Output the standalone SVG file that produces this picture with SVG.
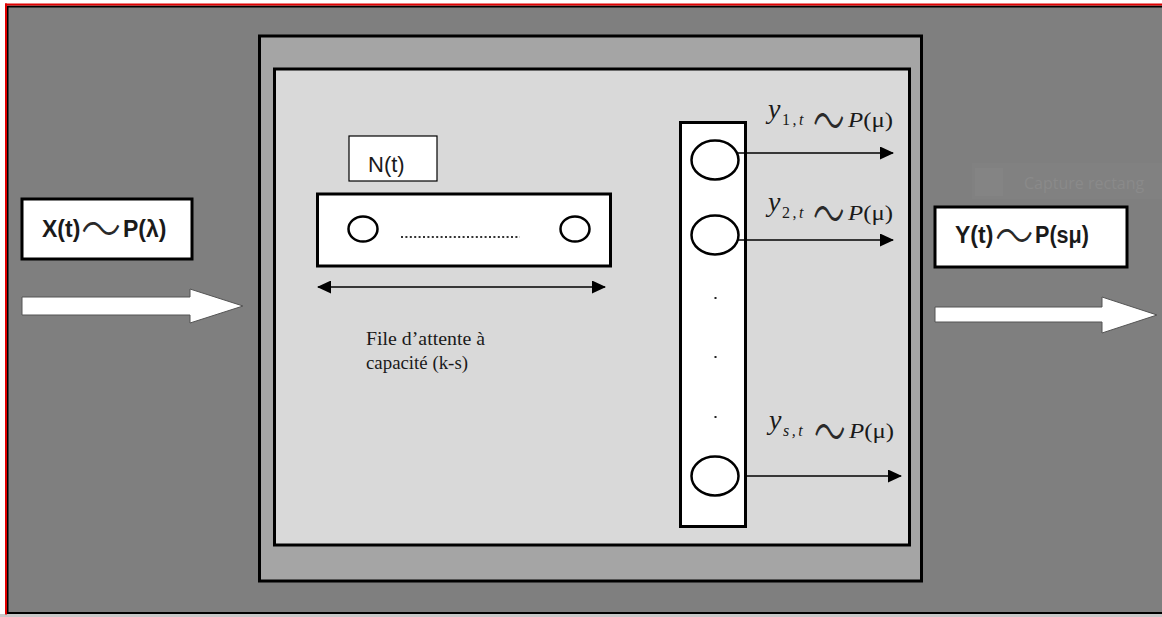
<svg xmlns="http://www.w3.org/2000/svg" width="1162" height="617" viewBox="0 0 1162 617">
<defs>
<marker id="ah" markerWidth="14" markerHeight="13" refX="13" refY="6.5" orient="auto-start-reverse" markerUnits="userSpaceOnUse">
<path d="M0,0 L14,6.5 L0,13 Z" fill="#000"/>
</marker>
<style>
.box{fill:#fff;stroke:#000;stroke-width:3}
.thin{fill:#fff;stroke:#000;stroke-width:1.2}
.circ{fill:#fff;stroke:#000;stroke-width:2.5}
.conn{stroke:#000;stroke-width:1.5;fill:none}
.blk{fill:#fff;stroke:#555;stroke-width:1}
.bold{font-family:"Liberation Sans",Arial,sans-serif;font-weight:bold;font-size:23px;fill:#1a1a1a}
.wave{font-family:"Noto Sans CJK JP","Noto Sans CJK SC",sans-serif;font-weight:300;fill:#2a2a2a}
.mi{font-family:"Liberation Serif","DejaVu Serif",serif;font-style:italic;fill:#1a1a1a}
.mr{font-family:"Liberation Serif","DejaVu Serif",serif;fill:#1a1a1a}
.ser{font-family:"Liberation Serif",serif;font-size:19px;fill:#1a1a1a}
</style>
</defs>
<rect x="0" y="0" width="1162" height="617" fill="#fff"/>
<rect x="0" y="614" width="1162" height="3" fill="#c8c8c8"/>
<g id="frame">
<rect x="7.5" y="6.5" width="1160" height="606.5" fill="#7f7f7f" stroke="#000" stroke-width="2"/>
<rect x="5" y="3.5" width="1157" height="2" fill="#e00000"/>
<rect x="5" y="3.5" width="2" height="611" fill="#e00000"/>
</g>
<g id="middle-box">
<rect x="259.5" y="36" width="662" height="545" fill="#a5a5a5" stroke="#000" stroke-width="3"/>
</g>
<g id="inner-box">
<rect x="274.5" y="69" width="635" height="476" fill="#d9d9d9" stroke="#000" stroke-width="3"/>
</g>
<g id="capture">
<rect x="972" y="163" width="190" height="36" fill="#818181"/>
<rect x="975" y="168" width="28" height="28" fill="#848484"/>
<text x="1024" y="189" font-family="'Open Sans','Liberation Sans',sans-serif" font-size="16" fill="#8a8a8a">Capture rectang</text>
</g>
<g id="x-label">
<rect class="box" x="22" y="199" width="170" height="60"/>
<text class="bold" x="42" y="237">X(t)</text>
<text class="wave" transform="translate(81,247.5) scale(1.25,1.6)" font-size="32">〜</text>
<text class="bold" x="123" y="237">P(λ)</text>
</g>
<g id="x-arrow">
<path class="blk" d="M22,297 H190 V289 L243,306 L190,323 V315 H22 Z"/>
</g>
<g id="nt-label">
<rect class="thin" x="349" y="136" width="88" height="45"/>
<text x="368" y="172" font-family="'Liberation Sans',Arial,sans-serif" font-size="22" fill="#1a1a1a">N(t)</text>
</g>
<g id="queue">
<rect class="box" x="317.5" y="194" width="293" height="72"/>
<ellipse class="circ" cx="363" cy="229" rx="14.5" ry="12.5"/>
<ellipse class="circ" cx="575" cy="229" rx="14.5" ry="12.5"/>
<line x1="401" y1="237" x2="520" y2="237" stroke="#333" stroke-width="2" stroke-dasharray="2,2.4"/>
</g>
<g id="queue-label">
<text class="ser" x="366" y="345" textLength="119" lengthAdjust="spacingAndGlyphs">File d’attente à</text>
<text class="ser" x="366" y="369" textLength="102" lengthAdjust="spacingAndGlyphs">capacité (k-s)</text>
</g>
<g id="servers">
<rect class="box" x="680.5" y="122.5" width="65" height="404"/>
<ellipse class="circ" cx="715" cy="160" rx="23.5" ry="19.5"/>
<ellipse class="circ" cx="715" cy="235" rx="23.5" ry="19.5"/>
<ellipse class="circ" cx="715" cy="476" rx="23.5" ry="19.5"/>
<rect x="714.5" y="297" width="2" height="2" fill="#222"/>
<rect x="714.5" y="356" width="2" height="2" fill="#222"/>
<rect x="714.5" y="416" width="2" height="2" fill="#222"/>
</g>
<g id="y-label">
<rect class="box" x="935" y="207" width="192" height="60"/>
<text class="bold" x="955" y="243">Y(t)</text>
<text class="wave" transform="translate(995,255) scale(1.2,1.6)" font-size="32">〜</text>
<text class="bold" x="1035" y="243" textLength="54" lengthAdjust="spacingAndGlyphs">P(sμ)</text>
</g>
<g id="y-arrow">
<path class="blk" d="M935,307 H1102 V297 L1157,315 L1102,333 V322 H935 Z"/>
</g>
<g id="server-label-1">
<text class="mi" x="768" y="118" font-size="28">y</text>
<text class="mr" x="782" y="125" font-size="16" letter-spacing="2.5">1,<tspan class="mi">t</tspan></text>
<text class="wave" transform="translate(813,142) scale(1.05,1.9)" font-size="30">〜</text>
<text class="mr" x="848" y="127" font-size="20" textLength="45" lengthAdjust="spacingAndGlyphs"><tspan class="mi">P</tspan>(μ)</text>
</g>
<g id="server-label-2" transform="translate(0,93)">
<text class="mi" x="768" y="118" font-size="28">y</text>
<text class="mr" x="782" y="125" font-size="16" letter-spacing="2.5">2,<tspan class="mi">t</tspan></text>
<text class="wave" transform="translate(813,142) scale(1.05,1.9)" font-size="30">〜</text>
<text class="mr" x="848" y="127" font-size="20" textLength="45" lengthAdjust="spacingAndGlyphs"><tspan class="mi">P</tspan>(μ)</text>
</g>
<g id="server-label-s" transform="translate(1,311)">
<text class="mi" x="768" y="118" font-size="28">y</text>
<text class="mi" x="782" y="125" font-size="16" letter-spacing="2.5">s,t</text>
<text class="wave" transform="translate(813,142) scale(1.05,1.9)" font-size="30">〜</text>
<text class="mr" x="848" y="127" font-size="20" textLength="45" lengthAdjust="spacingAndGlyphs"><tspan class="mi">P</tspan>(μ)</text>
</g>
<g id="connectors">
<line class="conn" x1="318" y1="287" x2="605" y2="287" marker-start="url(#ah)" marker-end="url(#ah)"/>
<line class="conn" x1="738" y1="153" x2="893" y2="153" marker-end="url(#ah)"/>
<line class="conn" x1="738" y1="240" x2="893" y2="240" marker-end="url(#ah)"/>
<line class="conn" x1="746" y1="476" x2="901" y2="476" marker-end="url(#ah)"/>
</g>
</svg>
